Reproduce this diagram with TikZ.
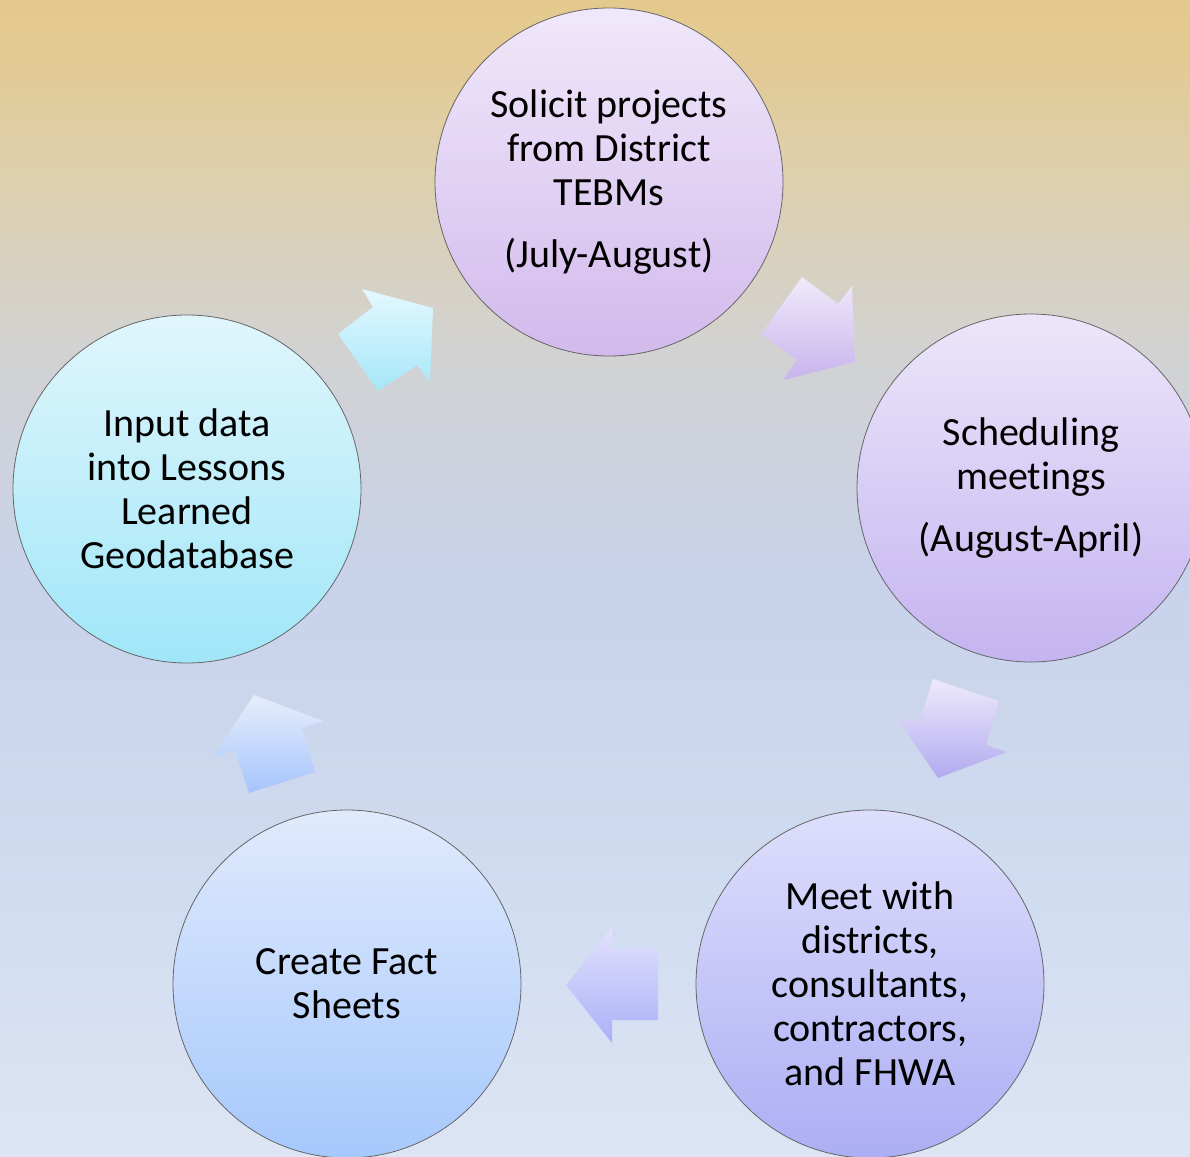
\documentclass[tikz,border=0pt]{standalone}
\usepackage{fontspec}
\setmainfont[Ligatures={NoCommon,NoContextual}]{Carlito}
\definecolor{bgA}{HTML}{E4C98E}
\definecolor{bgA2}{HTML}{E3CA94}
\definecolor{bgB}{HTML}{DDD0AE}
\definecolor{bgC}{HTML}{D2D2D2}
\definecolor{bgD}{HTML}{C8D2EA}
\definecolor{bgE}{HTML}{D0DCF0}
\definecolor{bgF}{HTML}{DDE5F4}
\pgfdeclareverticalshading{bgshade}{100bp}{color(0bp)=(bgF); color(25bp)=(bgF); color(36.1bp)=(bgE); color(49.9bp)=(bgD); color(59.9bp)=(bgC); color(67.2bp)=(bgB); color(72.4bp)=(bgA2); color(75bp)=(bgA); color(100bp)=(bgA)}
\tikzset{
  circ/.style={circle, minimum size=348pt, inner sep=0pt, draw=black!60, line width=0.8pt,
    font=\fontsize{40}{44}\selectfont, align=center, text=black},
  blockarrow/.style={draw=none}
}
\begin{document}
\begin{tikzpicture}[x=1pt,y=-1pt]
\useasboundingbox (0,0) rectangle (1190,1156);
\clip (0,0) rectangle (1190,1156);
\shade[shading=bgshade] (0,0) rectangle (1190,1156);

\node[circ, top color={rgb,255:red,240;green,232;blue,250}, bottom color={rgb,255:red,210;green,186;blue,236}] (top) at (609,182)
  {Solicit projects\\from District\\TEBMs\\[18pt](July-August)};
\node[circ, top color={rgb,255:red,236;green,230;blue,250}, bottom color={rgb,255:red,196;green,180;blue,240}] (right) at (1031,488)
  {Scheduling\\meet\kern0pt ings\\[18pt](August-April)};
\node[circ, top color={rgb,255:red,222;green,222;blue,252}, bottom color={rgb,255:red,172;green,174;blue,244}] (meet) at (870,984)
  {Meet with\\districts,\\consultants,\\contractors,\\and FHWA};
\node[circ, top color={rgb,255:red,224;green,234;blue,252}, bottom color={rgb,255:red,166;green,200;blue,252}] (fact) at (347,984)
  {Create Fact\\Sheets};
\node[circ, top color={rgb,255:red,224;green,246;blue,252}, bottom color={rgb,255:red,160;green,230;blue,248}] (input) at (187,489)
  {Input data\\into Lessons\\Learned\\Geodatabase};

% block arrows
\shade[blockarrow, top color={rgb,255:red,228;green,248;blue,255}, bottom color={rgb,255:red,166;green,230;blue,248}]
  (362,289) -- (373,307) -- (338,334) -- (378,391) -- (417,365) -- (430,383) -- (433,308) -- cycle;
\shade[blockarrow, top color={rgb,255:red,240;green,234;blue,250}, bottom color={rgb,255:red,200;green,180;blue,236}]
  (802,277) -- (838,304) -- (852,286) -- (855,362) -- (783,380) -- (797,360) -- (761,334) -- cycle;
\shade[blockarrow, top color={rgb,255:red,238;green,234;blue,252}, bottom color={rgb,255:red,178;green,170;blue,240}]
  (933,679) -- (999,701) -- (986,745) -- (1007,752) -- (938,778) -- (897,718) -- (919,722) -- cycle;
\shade[blockarrow, top color={rgb,255:red,226;green,226;blue,252}, bottom color={rgb,255:red,170;green,176;blue,248}]
  (612,927) -- (612,949) -- (658,949) -- (658,1020) -- (612,1020) -- (612,1043) -- (566,985) -- cycle;
\shade[blockarrow, top color={rgb,255:red,230;green,238;blue,252}, bottom color={rgb,255:red,166;green,196;blue,252}]
  (254,695) -- (323,721) -- (302,728) -- (315,772) -- (249,793) -- (235,750) -- (213,757) -- cycle;
\end{tikzpicture}
\end{document}
